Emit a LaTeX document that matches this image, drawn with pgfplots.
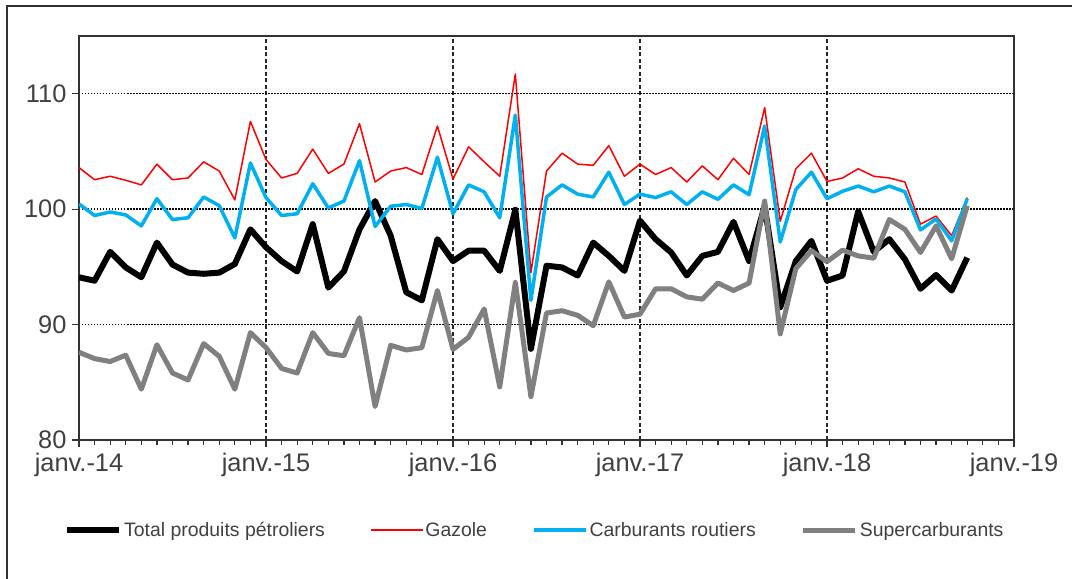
\documentclass[border=0pt]{standalone}
\usepackage{fontspec}
\setmainfont{Liberation Sans}
\usepackage{pgfplots}
\usepackage{pgfplotstable}
\pgfplotsset{compat=1.18}
\definecolor{txtgray}{RGB}{64,64,64}
\definecolor{axgray}{RGB}{50,50,50}
\definecolor{cred}{RGB}{255,0,0}
\definecolor{cblue}{RGB}{0,176,240}
\definecolor{cgray}{RGB}{128,128,128}
\pgfplotstableread{
k total gazole carb super
0 94.1 103.6 100.45 87.6
1 93.8 102.55 99.45 87.05
2 96.3 102.85 99.75 86.8
3 94.95 102.5 99.5 87.35
4 94.1 102.1 98.55 84.4
5 97.1 103.9 100.9 88.25
6 95.2 102.55 99.1 85.8
7 94.5 102.7 99.25 85.2
8 94.4 104.1 101.05 88.35
9 94.5 103.3 100.3 87.25
10 95.25 100.8 97.5 84.4
11 98.25 107.6 104.0 89.3
12 96.7 104.3 101.0 88.0
13 95.5 102.7 99.45 86.2
14 94.6 103.1 99.6 85.8
15 98.7 105.2 102.2 89.3
16 93.2 103.1 100.1 87.5
17 94.6 103.9 100.7 87.3
18 98.25 107.4 104.2 90.6
19 100.7 102.35 98.5 82.9
20 97.7 103.3 100.25 88.2
21 92.8 103.6 100.4 87.8
22 92.1 103.0 100.05 88.0
23 97.4 107.2 104.5 92.95
24 95.5 102.6 99.6 87.85
25 96.4 105.4 102.1 88.9
26 96.4 104.1 101.5 91.35
27 94.65 102.85 99.25 84.6
28 99.95 111.7 108.15 93.65
29 87.9 94.5 92.1 83.75
30 95.1 103.3 101.05 91.0
31 94.95 104.85 102.1 91.2
32 94.25 103.9 101.3 90.8
33 97.1 103.8 101.05 89.9
34 95.95 105.5 103.2 93.7
35 94.65 102.85 100.4 90.65
36 99.0 103.9 101.3 90.9
37 97.4 103.0 101.0 93.1
38 96.25 103.6 101.5 93.1
39 94.25 102.35 100.4 92.4
40 95.95 103.75 101.5 92.2
41 96.3 102.55 100.85 93.6
42 98.9 104.4 102.1 92.95
43 95.5 103.0 101.25 93.6
44 100.25 108.8 107.2 100.7
45 91.5 98.95 97.15 89.2
46 95.5 103.5 101.7 94.85
47 97.25 104.85 103.2 96.4
48 93.8 102.4 100.9 95.45
49 94.25 102.7 101.55 96.45
50 99.8 103.5 102.0 95.95
51 96.3 102.85 101.5 95.75
52 97.4 102.7 102.0 99.1
53 95.65 102.35 101.5 98.25
54 93.1 98.7 98.2 96.25
55 94.3 99.4 99.15 98.55
56 92.95 97.7 97.25 95.7
57 95.8 101.0 100.9 100.3
}\datatable
\begin{document}
\begin{tikzpicture}
\useasboundingbox (0,0) rectangle (1072bp,579bp);
\draw[line width=1.5bp, axgray] (7bp,0) -- (7bp,573bp) -- (1072bp,573bp);
\begin{axis}[
  at={(79bp,139bp)}, anchor=south west,
  scale only axis, width=935bp, height=404bp,
  xmin=0, xmax=60, ymin=80, ymax=115,
  xtick={0,12,24,36,48,60},
  xticklabels={janv.-14,janv.-15,janv.-16,janv.-17,janv.-18,janv.-19},
  minor xtick={0,1,...,60},
  ytick={80,90,100,110},
  tick align=outside,
  xtick pos=bottom, ytick pos=left,
  major tick length=7bp, minor tick length=5bp,
  every tick/.style={axgray, line width=1.2bp},
  minor tick style={axgray, line width=1.2bp},
  axis line style={axgray, line width=1.5bp},
  ymajorgrids, xmajorgrids,
  y grid style={black, line width=1.5bp, dash pattern=on 1.5bp off 1.5bp},
  x grid style={black!85, line width=1.2bp, dash pattern=on 4bp off 2.5bp},
  /pgf/number format/assume math mode=true,
  ticklabel style={font=\fontsize{25.5}{28}\selectfont, text=txtgray},
  yticklabel style={xshift=-2bp},
  xticklabel style={yshift=-3bp},
  legend columns=4,
  legend style={at={(-0.0161,-0.2228)}, anchor=west, draw=none, fill=none,
    inner sep=0pt, font=\fontsize{19.5}{22}\selectfont, text=txtgray,
    nodes={inner sep=2bp},
    /tikz/every even column/.append style={column sep=43bp}},
  legend image code/.code={\draw[#1] (0bp,0bp) -- (52bp,0bp);},
  every axis plot/.append style={line join=round},
]
\addplot[black, line width=6bp, no markers] table[x=k, y=total] {\datatable};
\addlegendentry{Total produits pétroliers}
\addplot[cred, line width=1.5bp, no markers] table[x=k, y=gazole] {\datatable};
\addlegendentry{Gazole}
\addplot[cblue, line width=3.5bp, no markers] table[x=k, y=carb] {\datatable};
\addlegendentry{Carburants routiers}
\addplot[cgray, line width=5bp, no markers] table[x=k, y=super] {\datatable};
\addlegendentry{Supercarburants}
\end{axis}
\end{tikzpicture}
\end{document}
